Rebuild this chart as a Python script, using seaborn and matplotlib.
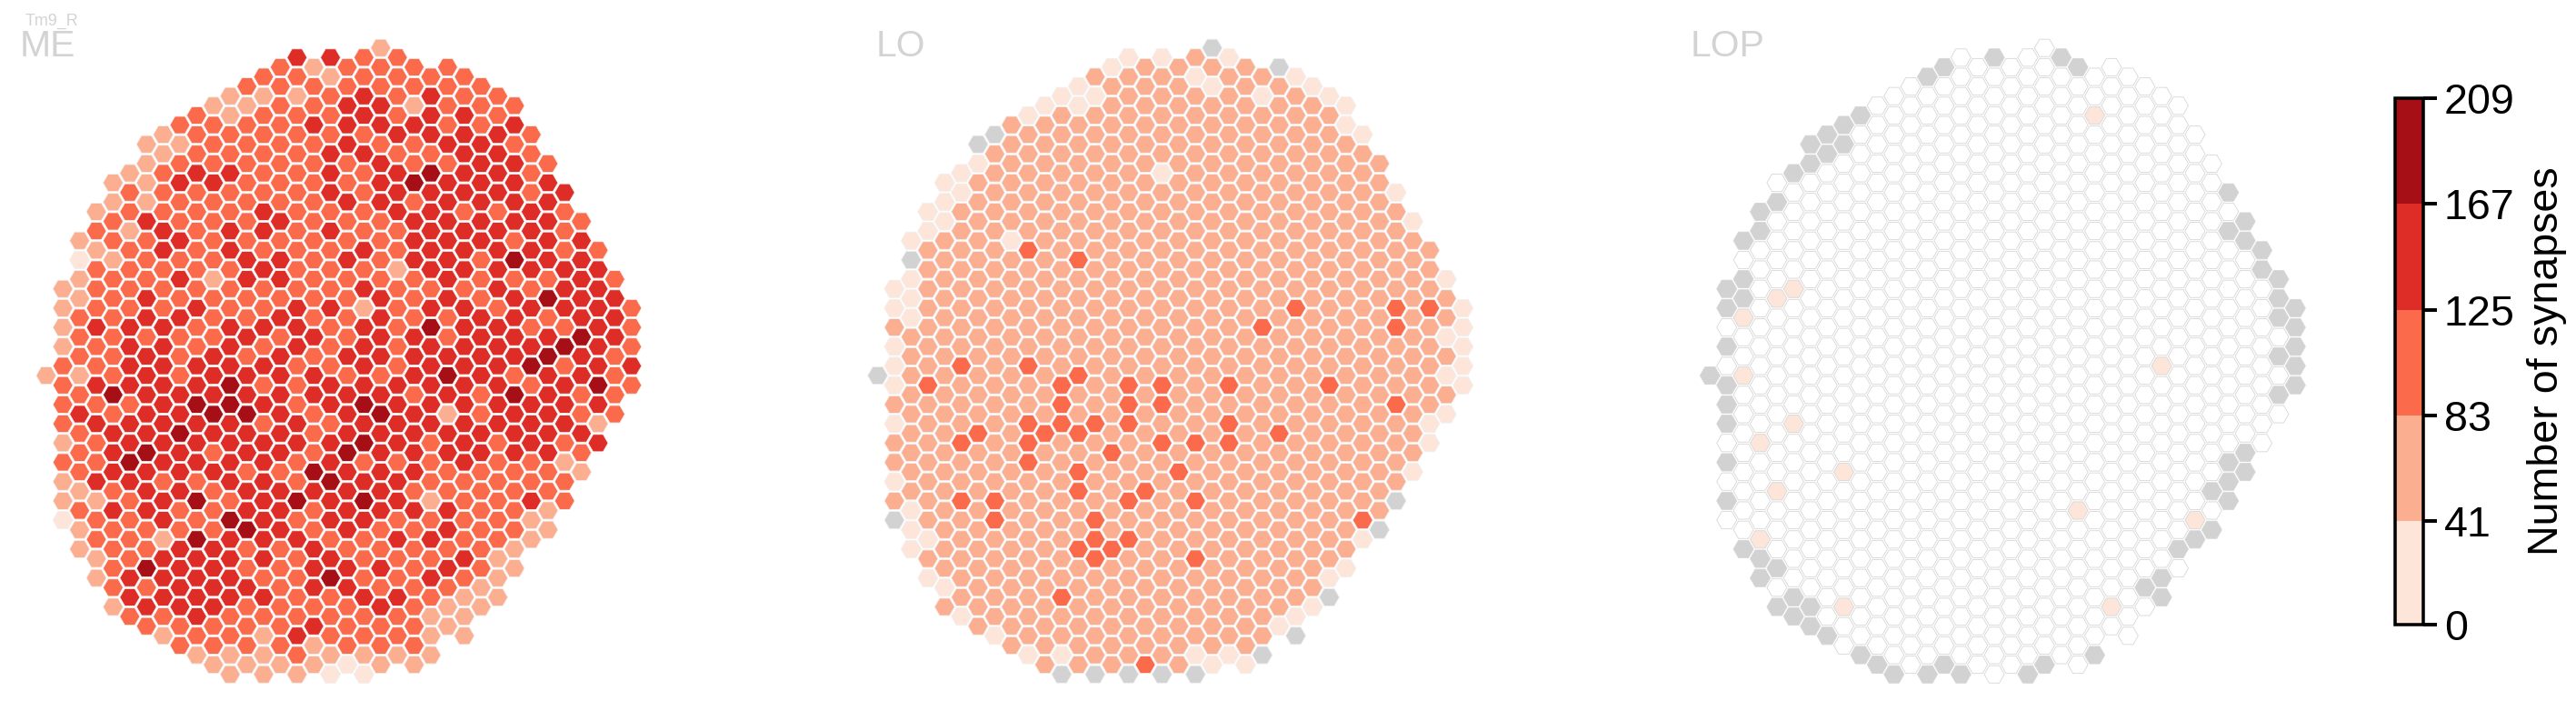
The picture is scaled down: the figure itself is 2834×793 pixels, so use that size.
import pandas as pd
import matplotlib
matplotlib.use('Agg')
import matplotlib.pyplot as plt
import matplotlib.colors as mcolors
from matplotlib.cm import ScalarMappable
import seaborn as sns

# hex lattice: first column and cell count of every row, rows run top to bottom, a row steps 2 columns
row_first = [20, 15, 14, 13, 12, 11, 10, 9, 8, 7, 6, 7, 6, 5, 4, 5, 4, 3, 4, 3, 2, 3, 2, 3, 2, 1, 2, 1, 2, 1, 2, 1, 2,
             1, 0, 1, 2, 1, 2, 1, 2, 1, 2, 1, 2, 1, 2, 1, 2, 1, 2, 3, 2, 3, 4, 3, 4, 5, 4, 5, 6, 7, 8, 9, 10, 11]
row_len = [1, 4, 6, 7, 8, 9, 10, 10, 11, 12, 12, 12, 13, 13, 14, 14, 14, 15, 15, 15, 16, 16, 16, 16, 17, 17, 17, 18,
           17, 18, 17, 18, 17, 18, 18, 18, 17, 17, 17, 17, 16, 17, 16, 16, 16, 16, 15, 16, 15, 15, 15, 14, 14, 13,
           13, 13, 12, 12, 12, 11, 10, 10, 8, 8, 7, 5]

# 1-5 = colour bin of the synapse count, 0 = no synapses, g = no data
me_bins = [
    "2", "4433", "323333", "3323333", "33333333", "222343433", "2233442333", "3233343443",
    "33334444334", "233333344443", "223333433443", "233334433443", "2333333433443", "2344334345443",
    "22443333454444", "33333343444434", "22333334434444", "233334333443343", "343334333444443",
    "324344343344443", "2334333333444344", "2343433343444433", "1233344343443544", "3333343332444444",
    "23342443333433343", "23333333343334344", "23433333343434544", "233343344234434443",
    "33443343343344344", "244434443435443343", "33333434344344454", "234434343434444543",
    "33434343444444543", "334444433434445344", "223434444334543443", "344445334444443453",
    "35444444443435433", "33345543454444444", "43445543454234433", "34444434344444442",
    "3445444344444444", "23444444454343434", "3454344354444443", "3354444343334332",
    "3444433544433332", "2443344354433333", "234434444433333", "2234534545423343",
    "344334434444332", "133435434433332", "233335434334332", "33254443344332", "23344334333332",
    "2344443433342", "3544334443432", "2444433533432", "334443443332", "444443344322",
    "244433334322", "33433333322", "3333343332", "2332433322", "33332333", "22232222", "2222122", "22211",
]
lo_bins = [
    "g", "1121", "12222g", "2221221", "12221221", "112222121", "1122222221", "1222222222",
    "22222222221", "g22222222221", "g22222222222", "222222222222", "1222222222222", "1222221222222",
    "12222222222222", "12222222222221", "12222222222222", "122222222222222", "122222222222221",
    "122222222222222", "1221222222222222", "2223222222222222", "g222232222222222", "2222222222222222",
    "12222222222222221", "12222222222222222", "12222222222222222", "122222222222322331",
    "12222222222222222", "222222222223222321", "22222222222222221", "122222222222222221",
    "22222222222222222", "123232222222222221", "g22222322222222221", "132223233232232221",
    "22222222222222222", "22222323322222232", "22222222222222221", "12223333223222221",
    "2232332222232222", "22323222333222221", "2222223222222222", "2222322222222222",
    "2222232232222221", "1222222222222222", "222223232222222", "223322232322222g",
    "122222222222222", "g22322322222223", "12222222222222g", "12222332222221", "12222332222222",
    "2222232232222", "2222222222221", "1222222222221", "122222222222", "22232222222g",
    "222222222221", "12222222221", "2222222221", "122222222g", "22222222", "1122211g", "2223211", "ggggg",
]
lop_bins = [
    "0", "0g0g", "g000g0", "g000000", "00000000", "000000000", "0000000000", "g000000100",
    "g0000000000", "g00000000000", "gg0000000000", "g00000000000", "g000000000000", "g000000000000",
    "00000000000000", "0000000000000g", "g0000000000000", "g00000000000000", "00000000000000g",
    "g0000000000000g", "g00000000000000g", "000000000000000g", "0000000000000000", "000000000000000g",
    "g000000000000000g", "g0100000000000000", "g100000000000000g", "g0000000000000000g",
    "1000000000000000g", "00000000000000000g", "00000000000000000", "g0000000000000000g",
    "0000000000000000g", "00000000000001000g", "g10000000000000000", "g0000000000000000g",
    "0000000000000000g", "g0000000000000000", "00000000000000000", "g0100000000000000",
    "0000000000000000", "01000000000000000", "000000000000000g", "g00000000000000g",
    "000100000000000g", "000000000000000g", "01000000000000g", "g00000000000000g",
    "000000000010000", "000000000000001", "00000000000000g", "1000000000000g", "g000000000000g",
    "g000000000000", "g000000000000", "g00000000000g", "00000000000g", "g0000000000g",
    "gg1000000010", "g0000000000", "g000000000", "g000000000", "00000000", "g000000g", "g0g00g0", "ggg0g",
]

panel_names = ['ME', 'LO', 'LOP']
panel_data = [me_bins, lo_bins, lop_bins]
panel_edges = ['#f0f0f0', '#f0f0f0', '#d6d6d6']
cell_type = 'Tm9_R'
cbar_ticks = [0, 41, 83, 125, 167, 209]
cbar_label = 'Number of synapses'

bin_colors = ['#fee5d9', '#fcae91', '#fb6a4a', '#de2d26', '#a50f15']
level_colors = {'0': '#ffffff', 'g': '#d2d2d2', '1': bin_colors[0], '2': bin_colors[1],
                '3': bin_colors[2], '4': bin_colors[3], '5': bin_colors[4]}

W, H = 2834, 793
DPI = 300
plt.rcParams['font.family'] = ['Liberation Sans', 'DejaVu Sans']


def to_frame(rows):
    bad = [r for r, levels in enumerate(rows) if len(levels) != row_len[r]]
    assert not bad and len(rows) == len(row_len), bad
    records = []
    for r, levels in enumerate(rows):
        for i, lev in enumerate(levels):
            records.append({'col': row_first[r] + 2 * i, 'row': r, 'level': lev})
    return pd.DataFrame(records)


def px_axes(fig, left, top, right, bottom):
    return fig.add_axes([left / W, 1 - bottom / H, (right - left) / W, (bottom - top) / H])


fig = plt.figure(figsize=(W / DPI, H / DPI), dpi=DPI)

# pixel position of column 0 in each panel, spacing is the same for all
col0_px = [50.8, 965.6, 1881.3]
col_step = 18.4
row0_px = 52.7
row_step = 10.6
name_px = [22, 964, 1860]

for name, rows, x0, tx, edge in zip(panel_names, panel_data, col0_px, name_px, panel_edges):
    ax = px_axes(fig, x0 - col_step, row0_px - 2 * row_step, x0 + 36 * col_step, row0_px + 67 * row_step)
    df = to_frame(rows)
    sns.scatterplot(data=df, x='col', y='row', hue='level', palette=level_colors, marker='H', s=28,
                    linewidth=0.2, edgecolor=edge, legend=False, ax=ax)
    ax.set_xlim(-1, 36)
    ax.set_ylim(67, -2)
    ax.axis('off')
    fig.text(tx / W, 1 - 62 / H, name, fontsize=9.8, color='#d3d3d3')

fig.text(28 / W, 1 - 28 / H, cell_type, fontsize=4.3, color='#d3d3d3')

# stepped colour bar
cax = px_axes(fig, 2635, 108, 2665.5, 687)
norm = mcolors.BoundaryNorm(cbar_ticks, 5)
cbar = fig.colorbar(ScalarMappable(norm=norm, cmap=mcolors.ListedColormap(bin_colors)), cax=cax,
                    ticks=cbar_ticks, spacing='proportional')
cbar.outline.set_linewidth(0.85)
cbar.outline.set_edgecolor('black')
cbar.ax.tick_params(length=3.6, width=0.95, labelsize=11.2, pad=2)
cbar.ax.minorticks_off()
cbar.set_label(cbar_label, fontsize=11.2, labelpad=3.3)

fig.savefig('out.png', dpi=DPI, facecolor='white')
